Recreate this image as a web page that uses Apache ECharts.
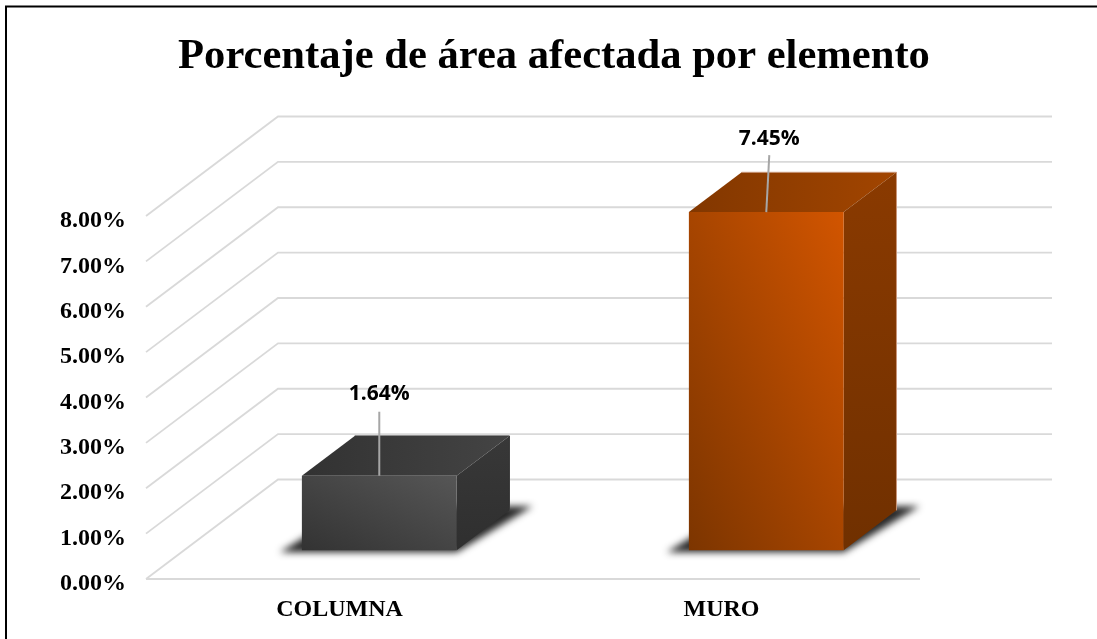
<!DOCTYPE html>
<html>
<head>
<meta charset="utf-8">
<title>Porcentaje de área afectada por elemento</title>
<script src="https://cdn.jsdelivr.net/npm/echarts@6/dist/echarts.min.js"></script>
<style>
  html, body { margin: 0; padding: 0; background: #fff; }
  #chart { width: 1097px; height: 639px; }
</style>
</head>
<body>
<div id="chart"></div>
<script>
const titleText = 'Porcentaje de área afectada por elemento'
const categories = ['COLUMNA', 'MURO']
const percentValues = [1.64, 7.45]
const valueLabels = ['1.64%', '7.45%']
const gridTicks = [0, 1, 2, 3, 4, 5, 6, 7, 8]

// fake 3d: how far the back wall sits from the front plane
const wallDepth = { x: 132, y: 99.5 }
const barNear = 0.29
const barFar = 0.69
const barShift = 1.5
const barWidthRatio = 0.4

// leader line for each value label, relative to the middle of the top face front edge
const leaderEnds = [
  { x: 0, y: -64 },
  { x: 3, y: -57 }
]
const leaderLift = [18, 16]

const barColors = [
  {
    frontDark: '#333333', frontLight: '#565656',
    sideTop: '#383838', sideBottom: '#2f2f2f',
    topLeft: '#323232', topRight: '#444444',
    edge: '#3c3c3c'
  },
  {
    frontDark: '#7c3500', frontLight: '#d25500',
    sideTop: '#8a3a00', sideBottom: '#703000',
    topLeft: '#823700', topRight: '#a24500',
    edge: '#c9977a'
  }
]

const renderWall = (params, api) => {
  const sys = params.coordSys
  const y = api.coord([0, api.value(0)])[1]
  return {
    type: 'polyline',
    silent: true,
    shape: {
      points: [
        [sys.x, y],
        [sys.x + wallDepth.x, y - wallDepth.y],
        [sys.x + sys.width + wallDepth.x, y - wallDepth.y]
      ]
    },
    style: { fill: null, stroke: '#d9d9d9', lineWidth: 1.8 }
  }
}

const renderFloorLine = (params, api) => {
  const sys = params.coordSys
  const y = api.coord([0, 0])[1]
  return {
    type: 'line',
    silent: true,
    shape: { x1: sys.x, y1: y, x2: sys.x + sys.width, y2: y },
    style: { stroke: '#d9d9d9', lineWidth: 1.8 }
  }
}

const renderBar = (params, api) => {
  const i = params.dataIndex
  const colors = barColors[i]
  const value = api.value(1)
  const top = api.coord([i, value])
  const base = api.coord([i, 0])
  const width = api.size([1, 0])[0] * barWidthRatio

  const left = top[0] + wallDepth.x * barNear + barShift - width / 2
  const right = left + width
  const yTop = top[1] - wallDepth.y * barNear
  const yBase = base[1] - wallDepth.y * barNear
  const height = yBase - yTop
  const dx = wallDepth.x * (barFar - barNear)
  const dy = wallDepth.y * (barFar - barNear)
  const midX = (left + right) / 2

  const leader = leaderEnds[i]
  const labelY = yTop + leader.y - leaderLift[i]

  // canvas gradients are not stretched with the box, so aim it so that
  // the top left and bottom right corners get the same middle colour
  const sq = height * height + width * width
  const gradX = (2 * height * height) / sq
  const gradY = 1 - (2 * width * width) / sq

  // the blurred floor shadow is cast from a shape parked off the canvas
  const off = 3000

  return {
    type: 'group',
    silent: true,
    children: [
      {
        type: 'polygon',
        shape: {
          points: [
            [left - 22 - off, yBase + 2],
            [right - off, yBase + 2],
            [right + dx + 23 - off, yBase - dy - 4],
            [left + dx - off, yBase - dy - 4]
          ]
        },
        style: {
          fill: '#000000',
          shadowBlur: 7,
          shadowColor: 'rgba(40,40,40,1)',
          shadowOffsetX: off
        }
      },
      {
        type: 'polygon',
        shape: {
          points: [
            [left, yTop],
            [right, yTop],
            [right + dx, yTop - dy],
            [left + dx, yTop - dy]
          ]
        },
        style: {
          fill: new echarts.graphic.LinearGradient(0, 0, 1, 0, [
            { offset: 0, color: colors.topLeft },
            { offset: 1, color: colors.topRight }
          ])
        }
      },
      {
        type: 'polygon',
        shape: {
          points: [
            [right, yTop],
            [right + dx, yTop - dy],
            [right + dx, yBase - dy],
            [right, yBase]
          ]
        },
        style: {
          fill: new echarts.graphic.LinearGradient(0, 0, 0, 1, [
            { offset: 0, color: colors.sideTop },
            { offset: 1, color: colors.sideBottom }
          ])
        }
      },
      {
        type: 'polyline',
        shape: {
          points: [
            [left + dx, yTop - dy],
            [right + dx, yTop - dy],
            [right + dx, yBase - dy]
          ]
        },
        style: { fill: null, stroke: colors.edge, lineWidth: 1 }
      },
      {
        type: 'rect',
        shape: { x: left, y: yTop, width: width, height: height },
        style: {
          fill: new echarts.graphic.LinearGradient(0, 1, gradX, gradY, [
            { offset: 0, color: colors.frontDark },
            { offset: 1, color: colors.frontLight }
          ])
        }
      },
      {
        type: 'line',
        shape: {
          x1: midX,
          y1: yTop,
          x2: midX + leader.x,
          y2: yTop + leader.y
        },
        style: { stroke: '#a6a6a6', lineWidth: 2 }
      },
      {
        type: 'text',
        style: {
          text: valueLabels[i],
          x: midX + leader.x,
          y: labelY,
          align: 'center',
          verticalAlign: 'middle',
          fill: '#000000',
          font: 'bold 21px "Open Sans", sans-serif'
        }
      }
    ]
  }
}

const myChart = echarts.init(document.getElementById('chart'), null, { renderer: 'canvas' })

const axisFont = {
  color: '#000000',
  fontFamily: '"Liberation Serif", serif',
  fontWeight: 'bold',
  fontSize: 24
}

const option = {
  animation: false,
  backgroundColor: '#ffffff',
  title: {
    text: titleText,
    left: 549,
    top: 30,
    textAlign: 'center',
    textStyle: {
      fontFamily: '"Liberation Serif", serif',
      fontWeight: 'bold',
      fontSize: 42.6,
      color: '#000000'
    }
  },
  graphic: [
    {
      type: 'polyline',
      silent: true,
      shape: { points: [[6, 639], [6, 6.5], [1097, 6.5]] },
      style: { fill: null, stroke: '#000000', lineWidth: 2 }
    }
  ],
  grid: {
    left: 146,
    top: 216,
    width: 774,
    height: 363
  },
  xAxis: {
    type: 'category',
    data: categories,
    axisLine: { show: false },
    axisTick: { show: false },
    splitLine: { show: false },
    axisLabel: {
      margin: 19,
      ...axisFont,
      formatter: (value, index) => (index === 1 ? '{nudged|' + value + '}' : value),
      rich: {
        nudged: { ...axisFont, padding: [0, 10, 0, 0] }
      }
    }
  },
  yAxis: {
    type: 'value',
    min: 0,
    max: 8,
    interval: 1,
    axisLine: { show: false },
    axisTick: { show: false },
    splitLine: { show: false },
    axisLabel: {
      margin: 20,
      verticalAlign: 'top',
      lineHeight: 10,
      ...axisFont,
      formatter: (value) => value.toFixed(2) + '%'
    }
  },
  series: [
    {
      name: 'walls',
      type: 'custom',
      coordinateSystem: 'cartesian2d',
      clip: false,
      z: 1,
      data: gridTicks.map((tick) => [tick]),
      encode: { y: 0 },
      renderItem: renderWall
    },
    {
      name: 'floor',
      type: 'custom',
      coordinateSystem: 'cartesian2d',
      clip: false,
      z: 1,
      data: [[0]],
      encode: { y: 0 },
      renderItem: renderFloorLine
    },
    {
      name: 'bars',
      type: 'custom',
      coordinateSystem: 'cartesian2d',
      clip: false,
      z: 2,
      data: categories.map((name, i) => [i, percentValues[i]]),
      encode: { x: 0, y: 1 },
      renderItem: renderBar
    }
  ]
}

myChart.setOption(option)
</script>
</body>
</html>
